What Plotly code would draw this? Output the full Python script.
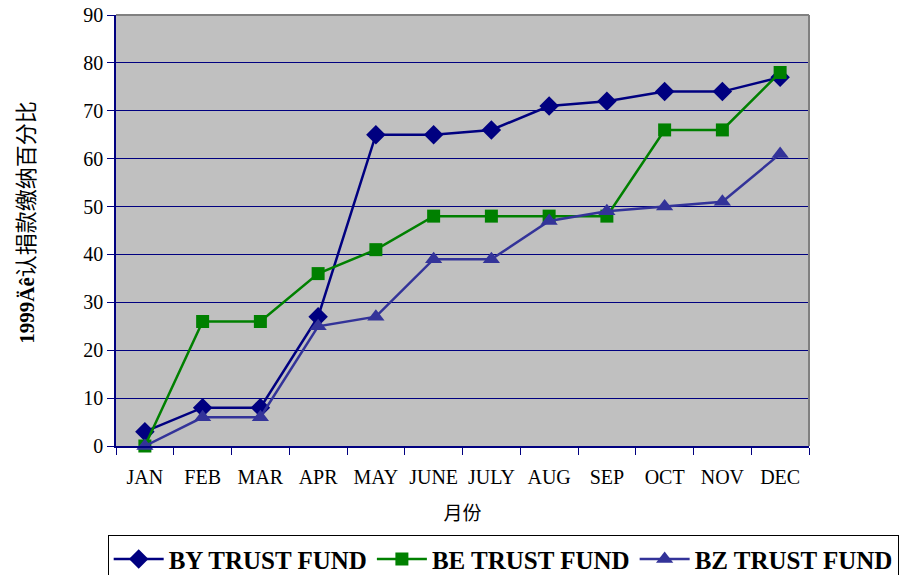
import plotly.graph_objects as go

months = ["JAN", "FEB", "MAR", "APR", "MAY", "JUNE", "JULY", "AUG", "SEP", "OCT", "NOV", "DEC"]
by_fund = [3, 8, 8, 27, 65, 65, 66, 71, 72, 74, 74, 77]
be_fund = [0, 26, 26, 36, 41, 48, 48, 48, 48, 66, 66, 78]
bz_fund = [0, 6, 6, 25, 27, 39, 39, 47, 49, 50, 51, 61]
series_names = ["BY TRUST FUND", "BE TRUST FUND", "BZ TRUST FUND"]
y_ticks = [0, 10, 20, 30, 40, 50, 60, 70, 80, 90]

serif = "Liberation Serif, Times New Roman, serif"

fig = go.Figure()
specs = [
    (by_fund, series_names[0], "#000080", "diamond", 15),
    (be_fund, series_names[1], "#008000", "square", 13),
    (bz_fund, series_names[2], "#333399", "triangle-up", 15),
]
for vals, name, color, sym, size in specs:
    fig.add_trace(go.Scatter(
        x=months, y=vals, name=name, mode="lines+markers",
        line=dict(color=color, width=2.5),
        marker=dict(symbol=sym, size=size, color=color),
        cliponaxis=False,
    ))

fig.update_layout(
    width=921, height=575,
    margin=dict(l=108, r=120, t=7, b=137, autoexpand=False),
    paper_bgcolor="white",
    plot_bgcolor="#C0C0C0",
    font=dict(family=serif, size=20, color="black"),
    showlegend=True,
    legend=dict(
        orientation="h", x=-0.012, y=-0.207, xanchor="left", yanchor="top",
        bordercolor="black", borderwidth=1, bgcolor="white",
        font=dict(family=serif, size=25, color="black", weight="bold"),
        itemwidth=50, tracegroupgap=0,
    ),
    xaxis=dict(
        type="category", tickson="boundaries", ticks="outside", ticklen=7,
        tickcolor="#000080", showline=True, linecolor="#000080", linewidth=1.5,
        showgrid=False, tickfont=dict(family=serif, size=20), automargin=False,
        tickangle=0, ticklabelstandoff=12,
        title=dict(text="月份", font=dict(family="Noto Sans CJK SC", size=19), standoff=20),
        range=[-0.5, 11.5],
    ),
    yaxis=dict(
        range=[0, 90], tickvals=y_ticks, ticks="outside", ticklen=7,
        tickcolor="#000080", showline=True, linecolor="#000080", linewidth=1.5,
        showgrid=True, gridcolor="#000080", gridwidth=1, zeroline=False,
        tickfont=dict(family=serif, size=20), automargin=False,
        ticklabeloverflow="allow",
    ),
    annotations=[
        dict(text="<b>1999Äê</b><span style='font-family:Noto Sans CJK SC;font-size:22px'>认捐款缴纳百分比</span>",
             font=dict(family=serif, size=21, color="black"), textangle=-90,
             xref="paper", yref="paper", x=-0.133, y=0.52,
             xanchor="center", yanchor="middle", showarrow=False),
    ],
    shapes=[
        dict(type="line", xref="paper", yref="paper", x0=0, x1=1, y0=1, y1=1,
             line=dict(color="#808080", width=2)),
        dict(type="line", xref="paper", yref="paper", x0=1, x1=1, y0=0, y1=1,
             line=dict(color="#808080", width=2)),
    ],
)

fig.write_html("out.html")
